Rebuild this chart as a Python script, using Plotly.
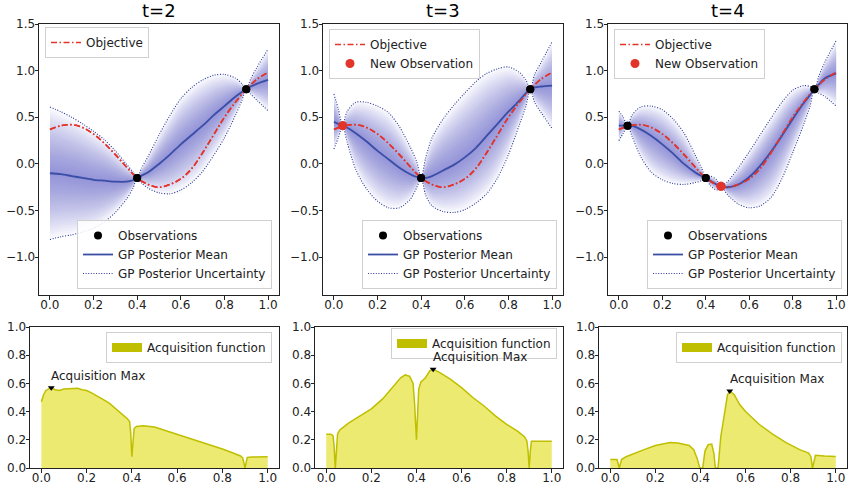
import plotly.graph_objects as go

# ---------------- data ----------------
titles = ["t=2", "t=3", "t=4"]

objective_x = [0, 0.05, 0.1, 0.15, 0.2, 0.25, 0.3, 0.35, 0.4, 0.45, 0.5,
               0.55, 0.6, 0.65, 0.7, 0.75, 0.8, 0.85, 0.9, 0.95, 1.0]
objective_y = [0.37, 0.41, 0.42, 0.39, 0.32, 0.22, 0.10, -0.03, -0.15, -0.22, -0.25,
               -0.22, -0.16, -0.05, 0.12, 0.31, 0.50, 0.66, 0.80, 0.91, 0.98]

# t=2
gp1_x = [0, 0.05, 0.1, 0.15, 0.2, 0.25, 0.3, 0.35, 0.38, 0.4, 0.42, 0.45, 0.5,
         0.55, 0.6, 0.65, 0.7, 0.75, 0.8, 0.85, 0.88, 0.9, 0.92, 0.95, 1.0]
gp1_mean = [-0.10, -0.11, -0.13, -0.15, -0.17, -0.18, -0.19, -0.19, -0.175, -0.15, -0.125, -0.09, 0.0,
            0.10, 0.21, 0.31, 0.41, 0.52, 0.62, 0.72, 0.77, 0.80, 0.83, 0.86, 0.90]
gp1_upper = [0.61, 0.56, 0.50, 0.43, 0.35, 0.26, 0.14, 0.00, -0.085, -0.15, -0.045, 0.08, 0.31,
             0.52, 0.70, 0.82, 0.90, 0.95, 0.96, 0.92, 0.86, 0.80, 0.91, 1.04, 1.23]
gp1_lower = [-0.81, -0.78, -0.76, -0.73, -0.69, -0.62, -0.52, -0.38, -0.265, -0.15, -0.205, -0.26, -0.31,
             -0.32, -0.28, -0.20, -0.08, 0.09, 0.28, 0.52, 0.68, 0.80, 0.75, 0.68, 0.57]

# t=3
gp2_x = [0, 0.02, 0.04, 0.06, 0.1, 0.15, 0.2, 0.25, 0.3, 0.35, 0.38, 0.4, 0.42, 0.45, 0.5,
         0.55, 0.6, 0.65, 0.7, 0.75, 0.8, 0.85, 0.88, 0.9, 0.92, 0.95, 1.0]
gp2_mean = [0.45, 0.43, 0.41, 0.39, 0.33, 0.24, 0.14, 0.05, -0.04, -0.11, -0.14, -0.15, -0.15, -0.13, -0.07,
            -0.01, 0.07, 0.17, 0.30, 0.43, 0.56, 0.68, 0.76, 0.80, 0.82, 0.83, 0.84]
gp2_upper = [0.75, 0.59, 0.41, 0.56, 0.66, 0.66, 0.62, 0.55, 0.40, 0.18, 0.02, -0.15, 0.06, 0.28, 0.48,
             0.63, 0.76, 0.88, 0.97, 1.02, 1.04, 0.98, 0.90, 0.80, 0.96, 1.09, 1.31]
gp2_lower = [0.16, 0.28, 0.41, 0.24, -0.06, -0.27, -0.40, -0.47, -0.47, -0.38, -0.25, -0.15, -0.33, -0.45, -0.51,
             -0.52, -0.49, -0.42, -0.32, -0.15, 0.10, 0.42, 0.62, 0.80, 0.66, 0.55, 0.38]

# t=4
gp3_x = [0, 0.02, 0.04, 0.06, 0.1, 0.15, 0.2, 0.25, 0.3, 0.35, 0.38, 0.4, 0.42, 0.45, 0.47, 0.5,
         0.55, 0.6, 0.65, 0.7, 0.75, 0.8, 0.85, 0.88, 0.9, 0.92, 0.95, 1.0]
gp3_mean = [0.41, 0.41, 0.41, 0.41, 0.37, 0.30, 0.21, 0.11, 0.0, -0.09, -0.13, -0.15, -0.18, -0.22, -0.24, -0.25,
            -0.22, -0.14, -0.02, 0.13, 0.30, 0.48, 0.65, 0.74, 0.80, 0.85, 0.92, 0.97]
gp3_upper = [0.565, 0.50, 0.41, 0.52, 0.61, 0.62, 0.58, 0.48, 0.33, 0.10, -0.04, -0.15, -0.13, -0.17, -0.24, -0.19,
             -0.04, 0.13, 0.31, 0.49, 0.66, 0.79, 0.84, 0.83, 0.80, 0.94, 1.10, 1.32]
gp3_lower = [0.25, 0.33, 0.41, 0.30, 0.08, -0.09, -0.17, -0.21, -0.22, -0.20, -0.18, -0.15, -0.23, -0.28, -0.24, -0.33,
             -0.43, -0.47, -0.45, -0.36, -0.16, 0.12, 0.42, 0.62, 0.80, 0.76, 0.72, 0.62]

obs_x = [[0.4, 0.9], [0.4, 0.9], [0.04, 0.4, 0.9]]
obs_y = [[-0.15, 0.80], [-0.15, 0.80], [0.41, -0.15, 0.80]]
new_obs_x = [None, [0.04], [0.47]]
new_obs_y = [None, [0.41], [-0.24]]

acq1_x = [0, 0.01, 0.02, 0.03, 0.044, 0.06, 0.08, 0.1, 0.13, 0.16, 0.18, 0.2, 0.22, 0.25, 0.28, 0.3,
          0.33, 0.36, 0.38, 0.39, 0.395, 0.4, 0.405, 0.41, 0.42, 0.45, 0.5, 0.55, 0.6, 0.65, 0.7,
          0.75, 0.8, 0.85, 0.88, 0.89, 0.895, 0.9, 0.905, 0.91, 0.93, 0.96, 1.0]
acq1_y = [0.47, 0.52, 0.55, 0.56, 0.57, 0.555, 0.55, 0.56, 0.565, 0.565, 0.555, 0.55, 0.535, 0.51, 0.48, 0.46,
          0.42, 0.38, 0.35, 0.33, 0.25, 0.08, 0.22, 0.28, 0.295, 0.30, 0.29, 0.265, 0.24, 0.215, 0.19,
          0.165, 0.135, 0.105, 0.085, 0.07, 0.04, 0.0, 0.04, 0.075, 0.078, 0.078, 0.08]
acq2_x = [0, 0.02, 0.03, 0.035, 0.04, 0.045, 0.05, 0.06, 0.1, 0.15, 0.2, 0.25, 0.3, 0.33, 0.35, 0.37,
          0.385, 0.392, 0.4, 0.405, 0.41, 0.42, 0.44, 0.46, 0.474, 0.5, 0.55, 0.6, 0.65, 0.7, 0.75,
          0.8, 0.85, 0.88, 0.89, 0.895, 0.9, 0.905, 0.91, 0.95, 1.0]
acq2_y = [0.24, 0.24, 0.23, 0.15, 0.0, 0.15, 0.24, 0.27, 0.32, 0.37, 0.42, 0.49, 0.58, 0.64, 0.66, 0.65,
          0.60, 0.45, 0.2, 0.45, 0.56, 0.61, 0.64, 0.69, 0.70, 0.68, 0.63, 0.57, 0.50, 0.44, 0.37,
          0.31, 0.26, 0.22, 0.19, 0.12, 0.0, 0.12, 0.19, 0.19, 0.19]
acq3_x = [0, 0.03, 0.035, 0.04, 0.045, 0.05, 0.07, 0.1, 0.15, 0.2, 0.265, 0.3, 0.35, 0.37, 0.385, 0.397,
          0.41, 0.42, 0.434, 0.45, 0.46, 0.466, 0.478, 0.49, 0.507, 0.52, 0.53, 0.55, 0.574, 0.6, 0.66,
          0.72, 0.78, 0.84, 0.88, 0.89, 0.897, 0.905, 0.91, 0.95, 1.0]
acq3_y = [0.06, 0.06, 0.03, 0.0, 0.03, 0.06, 0.08, 0.10, 0.13, 0.16, 0.18, 0.178, 0.16, 0.13, 0.07, 0.0,
          0.0, 0.12, 0.165, 0.17, 0.1, 0.0, 0.0, 0.22, 0.41, 0.52, 0.546, 0.52, 0.45, 0.40, 0.31,
          0.24, 0.18, 0.13, 0.106, 0.08, 0.0, 0.06, 0.09, 0.085, 0.082]
acq_max_x = [0.044, 0.474, 0.53]
acq_max_y = [0.57, 0.70, 0.546]

top_yticks = [-1.0, -0.5, 0.0, 0.5, 1.0, 1.5]
top_yticklabels = ["\u22121.0", "\u22120.5", "0.0", "0.5", "1.0", "1.5"]
xticks = [0.0, 0.2, 0.4, 0.6, 0.8, 1.0]
xticklabels = ["0.0", "0.2", "0.4", "0.6", "0.8", "1.0"]
bot_yticks = [0.0, 0.2, 0.4, 0.6, 0.8, 1.0]
bot_yticklabels = ["0.0", "0.2", "0.4", "0.6", "0.8", "1.0"]

# ---------------- styling ----------------
W, H = 850, 485
FONT = "DejaVu Sans"
RED = "#e3342b"
MEAN_BLUE = "#3a4ea6"
DOT_BLUE = "#27389a"
ACQ_LINE = "#bfbf00"
ACQ_FILL = "rgb(236,234,112)"
N_BANDS = 24
BAND_FILL = "rgba(75,85,205,0.036)"

def px_x(p):
    return p / W

def px_y(p):
    return 1 - p / H

top_dom_x = [(39, 279), (323, 563), (608, 847)]
bot_dom_x = [(30, 279), (315, 563), (599, 847)]
top_dom_y = (24, 295)
bot_dom_y = (327, 468)

fig = go.Figure()

gps = [(gp1_x, gp1_mean, gp1_upper, gp1_lower),
       (gp2_x, gp2_mean, gp2_upper, gp2_lower),
       (gp3_x, gp3_mean, gp3_upper, gp3_lower)]
acqs = [(acq1_x, acq1_y), (acq2_x, acq2_y), (acq3_x, acq3_y)]

top_legends = ["legend", "legend3", "legend5"]
low_legends = ["legend2", "legend4", "legend6"]
acq_legends = ["legend7", "legend8", "legend9"]

for i in range(3):
    xa = "x" if i == 0 else f"x{i+1}"
    ya = "y" if i == 0 else f"y{i+1}"
    gx, gm, gu, gl = gps[i]
    # gradient uncertainty bands
    for k in range(N_BANDS, 0, -1):
        f = k / N_BANDS
        lo = [m + f * (l - m) for m, l in zip(gm, gl)]
        hi = [m + f * (u - m) for m, u in zip(gm, gu)]
        fig.add_trace(go.Scatter(x=gx, y=lo, mode="lines", line=dict(width=0, shape="spline", smoothing=0.8),
                                 xaxis=xa, yaxis=ya, showlegend=False, hoverinfo="skip"))
        fig.add_trace(go.Scatter(x=gx, y=hi, mode="lines", line=dict(width=0, shape="spline", smoothing=0.8),
                                 fill="tonexty", fillcolor=BAND_FILL,
                                 xaxis=xa, yaxis=ya, showlegend=False, hoverinfo="skip"))
    # objective
    fig.add_trace(go.Scatter(x=objective_x, y=objective_y, mode="lines", name="Objective",
                             line=dict(color=RED, width=1.6, dash="6px,2.5px,1.5px,2.5px", shape="spline"),
                             xaxis=xa, yaxis=ya, legend=top_legends[i]))
    # new observation
    if new_obs_x[i] is not None:
        fig.add_trace(go.Scatter(x=new_obs_x[i], y=new_obs_y[i], mode="markers", name="New Observation",
                                 marker=dict(color=RED, size=9), xaxis=xa, yaxis=ya, legend=top_legends[i]))
    # observations
    fig.add_trace(go.Scatter(x=obs_x[i], y=obs_y[i], mode="markers", name="Observations",
                             marker=dict(color="black", size=8), xaxis=xa, yaxis=ya, legend=low_legends[i]))
    fig.add_trace(go.Scatter(x=gx, y=gm, mode="lines", name="GP Posterior Mean",
                             line=dict(color=MEAN_BLUE, width=1.8, shape="spline", smoothing=0.8),
                             xaxis=xa, yaxis=ya, legend=low_legends[i]))
    fig.add_trace(go.Scatter(x=gx, y=gu, mode="lines", name="GP Posterior Uncertainty",
                             line=dict(color=DOT_BLUE, width=1.1, dash="1px,1.6px", shape="spline", smoothing=0.8),
                             xaxis=xa, yaxis=ya, legend=low_legends[i]))
    fig.add_trace(go.Scatter(x=gx, y=gl, mode="lines", name="GP Posterior Uncertainty",
                             line=dict(color=DOT_BLUE, width=1.1, dash="1px,1.6px", shape="spline", smoothing=0.8),
                             xaxis=xa, yaxis=ya, showlegend=False, legend=low_legends[i]))
    # re-draw objective & markers on top of mean
    fig.add_trace(go.Scatter(x=objective_x, y=objective_y, mode="lines", showlegend=False,
                             line=dict(color=RED, width=1.6, dash="6px,2.5px,1.5px,2.5px", shape="spline"),
                             xaxis=xa, yaxis=ya, hoverinfo="skip"))
    fig.add_trace(go.Scatter(x=obs_x[i], y=obs_y[i], mode="markers", showlegend=False,
                             marker=dict(color="black", size=8), xaxis=xa, yaxis=ya))
    if new_obs_x[i] is not None:
        fig.add_trace(go.Scatter(x=new_obs_x[i], y=new_obs_y[i], mode="markers", showlegend=False,
                                 marker=dict(color=RED, size=9), xaxis=xa, yaxis=ya))

    # acquisition panel
    bxa = f"x{i+4}"
    bya = f"y{i+4}"
    ax_, ay_ = acqs[i]
    fig.add_trace(go.Scatter(x=ax_, y=ay_, mode="lines", fill="tozeroy", fillcolor=ACQ_FILL,
                             line=dict(color=ACQ_LINE, width=1.5), xaxis=bxa, yaxis=bya,
                             showlegend=False))
    fig.add_trace(go.Scatter(x=[None], y=[None], mode="lines", name="Acquisition function",
                             line=dict(color=ACQ_LINE, width=9), xaxis=bxa, yaxis=bya,
                             legend=acq_legends[i]))
    fig.add_trace(go.Scatter(x=[acq_max_x[i]], y=[acq_max_y[i]], mode="markers",
                             marker=dict(symbol="triangle-down", color="black", size=6),
                             xaxis=bxa, yaxis=bya, showlegend=False))
    fig.add_annotation(x=acq_max_x[i], y=acq_max_y[i] + 0.05, xref=bxa, yref=bya,
                       text="Acquisition Max", showarrow=False, xanchor="left", yanchor="bottom",
                       yshift=-4, xshift=-2, font=dict(family=FONT, size=12, color="#222"))
    # title
    cx = (top_dom_x[i][0] + top_dom_x[i][1]) / 2
    fig.add_annotation(x=px_x(cx), y=px_y(top_dom_y[0] - 1), xref="paper", yref="paper",
                       text=titles[i], showarrow=False, xanchor="center", yanchor="bottom",
                       font=dict(family=FONT, size=18, color="black"))

axis_common = dict(showline=True, mirror=True, linecolor="#222", linewidth=1, ticks="outside",
                   ticklen=3.5, tickwidth=1, tickcolor="#222", showgrid=False, zeroline=False,
                   automargin=False, tickfont=dict(family=FONT, size=12, color="#222"))

layout_axes = {}
for i in range(3):
    sfx = "" if i == 0 else str(i + 1)
    layout_axes[f"xaxis{sfx}"] = dict(axis_common, domain=[px_x(top_dom_x[i][0]), px_x(top_dom_x[i][1])],
                                      range=[-0.05, 1.05], tickvals=xticks, ticktext=xticklabels,
                                      anchor=f"y{sfx}", ticklabelstandoff=-5)
    layout_axes[f"yaxis{sfx}"] = dict(axis_common, domain=[px_y(top_dom_y[1]), px_y(top_dom_y[0])],
                                      range=[-1.405, 1.5], tickvals=top_yticks, ticktext=top_yticklabels,
                                      anchor=f"x{sfx}", ticklabelstandoff=-3)
    b = str(i + 4)
    layout_axes[f"xaxis{b}"] = dict(axis_common, domain=[px_x(bot_dom_x[i][0]), px_x(bot_dom_x[i][1])],
                                    range=[-0.05, 1.05], tickvals=xticks, ticktext=xticklabels,
                                    anchor=f"y{b}", ticklabelstandoff=-5)
    layout_axes[f"yaxis{b}"] = dict(axis_common, domain=[px_y(bot_dom_y[1]), px_y(bot_dom_y[0])],
                                    range=[0, 1.0], tickvals=bot_yticks, ticktext=bot_yticklabels,
                                    anchor=f"x{b}", ticklabelstandoff=-3)

leg_common = dict(bgcolor="rgba(255,255,255,0.85)", bordercolor="#d0d0d0", borderwidth=1,
                  font=dict(family=FONT, size=12, color="#222"), itemwidth=30, tracegroupgap=0,
                  xref="paper", yref="paper")

legends = {
    "legend": dict(leg_common, x=px_x(45), y=px_y(27), xanchor="left", yanchor="top"),
    "legend3": dict(leg_common, x=px_x(329), y=px_y(29), xanchor="left", yanchor="top"),
    "legend5": dict(leg_common, x=px_x(614), y=px_y(29), xanchor="left", yanchor="top"),
    "legend2": dict(leg_common, x=px_x(272), y=px_y(289), xanchor="right", yanchor="bottom"),
    "legend4": dict(leg_common, x=px_x(557), y=px_y(289), xanchor="right", yanchor="bottom"),
    "legend6": dict(leg_common, x=px_x(842), y=px_y(289), xanchor="right", yanchor="bottom"),
    "legend7": dict(leg_common, x=px_x(272), y=px_y(332), xanchor="right", yanchor="top"),
    "legend8": dict(leg_common, x=px_x(557), y=px_y(328), xanchor="right", yanchor="top"),
    "legend9": dict(leg_common, x=px_x(842), y=px_y(332), xanchor="right", yanchor="top"),
}

fig.update_layout(width=W, height=H, margin=dict(l=0, r=0, t=0, b=0, autoexpand=False),
                  paper_bgcolor="white", plot_bgcolor="white",
                  font=dict(family=FONT, size=12, color="#222"),
                  **layout_axes, **legends)

fig.write_html("out.html", config={"displayModeBar": False},
               post_script="document.body.style.margin='0px';document.body.style.padding='0px';"
                           "document.documentElement.style.overflow='hidden';")
